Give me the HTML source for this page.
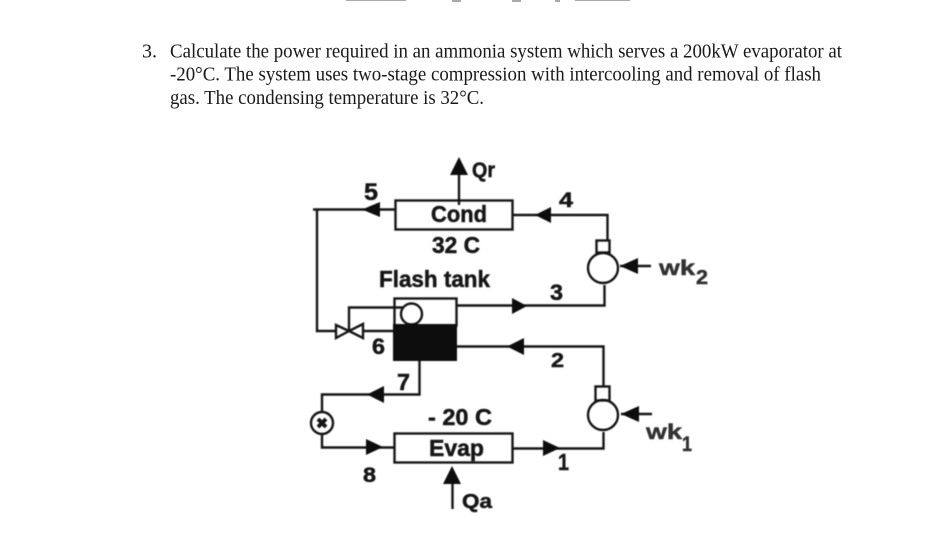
<!DOCTYPE html>
<html><head><meta charset="utf-8"><style>
html,body{margin:0;padding:0;background:#fff;width:945px;height:552px;overflow:hidden}
svg{display:block}
.b{font-family:"Liberation Serif",serif;font-size:20px;fill:#1a1a1a}
.l{font-family:"Liberation Sans",sans-serif;font-weight:bold;fill:#161616;stroke:#161616;stroke-width:.5}
.w{font-family:"Liberation Sans",sans-serif;font-weight:bold;fill:#333;stroke:#333;stroke-width:.5}
</style></head><body>
<svg width="945" height="552" viewBox="0 0 945 552" xmlns="http://www.w3.org/2000/svg">
<defs><filter id="s" x="-5%" y="-5%" width="110%" height="110%"><feGaussianBlur stdDeviation="0.4"/></filter></defs>
<rect width="945" height="552" fill="#fff"/>
<g fill="#555" opacity=".5">
<rect x="346" y="0" width="60" height="1"/><rect x="452" y="0" width="9" height="2"/><rect x="512" y="0" width="9" height="2"/><rect x="555" y="0" width="5" height="2"/><rect x="575" y="0" width="55" height="1"/>
</g>
<text class="b" x="142" y="57.500">3.</text>
<text class="b" x="170" y="57.500" textLength="672" lengthAdjust="spacingAndGlyphs">Calculate the power required in an ammonia system which serves a 200kW evaporator at</text>
<text class="b" x="170" y="80.500" textLength="651" lengthAdjust="spacingAndGlyphs">-20°C. The system uses two-stage compression with intercooling and removal of flash</text>
<text class="b" x="170" y="104" textLength="314" lengthAdjust="spacingAndGlyphs">gas. The condensing temperature is 32°C.</text>
<g filter="url(#s)">
<g fill="none" stroke="#141414" stroke-width="2.400">
<rect x="395.500" y="200.500" width="117" height="29"/>
<rect x="394.500" y="433.500" width="118" height="29"/>
<rect x="394.500" y="298.500" width="62" height="27"/>
<path d="M459 170V205M313 209.500H395M317 209V331H335M364 331H394M349 331V307.500H404M513 215H607.500V240"/>
<path d="M457 305.500H604.500V285M457 346.500H603.500V386M603.500 432V448.500H513"/>
<path d="M419.500 361V394.500H322V413M322 433V447.500H394M452.500 484V509M620 266H651M621 414H652"/>
<circle cx="411.500" cy="314" r="10.500"/>
<circle cx="603" cy="268" r="15"/><rect x="596.500" y="240.500" width="13" height="12"/>
<circle cx="603" cy="415" r="15"/><rect x="595.500" y="386.500" width="14" height="14"/>
<circle cx="322" cy="423" r="11"/>
<path d="M336 325L349 331 336 338ZM363 324L349 331 363 338Z"/>
<path d="M318 419L326 427M326 419L318 427" stroke-width="4"/>
</g>
<rect x="393" y="324" width="64" height="37" fill="#0c0c0c"/>
<g fill="#111">
<path d="M459 157L468 175H450Z"/>
<path d="M362 209.500L380 202V217Z"/>
<path d="M535 215L551 207V223Z"/>
<path d="M527 306L512 298V314Z"/>
<path d="M507 346.500L524 338V355Z"/>
<path d="M620 266L638 258V274Z"/>
<path d="M621 414L639 406V422Z"/>
<path d="M560 448L543 440V456Z"/>
<path d="M367 394.500L384 386V403Z"/>
<path d="M383 447L366 439V455Z"/>
<path d="M452 466L461 484H443Z"/>
</g>
<text class="l" x="472" y="177" font-size="21" textLength="23" lengthAdjust="spacingAndGlyphs">Qr</text>
<text class="l" x="364" y="200" font-size="24" textLength="14" lengthAdjust="spacingAndGlyphs">5</text>
<text class="l" x="559" y="207" font-size="21" textLength="14" lengthAdjust="spacingAndGlyphs">4</text>
<text class="l" x="431" y="222" font-size="23.500" textLength="56" lengthAdjust="spacingAndGlyphs">Cond</text>
<text class="l" x="432" y="253" font-size="23.500" textLength="48" lengthAdjust="spacingAndGlyphs">32 C</text>
<text class="l" x="379" y="287" font-size="23.500" textLength="111" lengthAdjust="spacingAndGlyphs">Flash tank</text>
<text class="l" x="550" y="300" font-size="22" textLength="13" lengthAdjust="spacingAndGlyphs">3</text>
<text class="l" x="372" y="354" font-size="22" textLength="13" lengthAdjust="spacingAndGlyphs">6</text>
<text class="l" x="551" y="367" font-size="20" textLength="13" lengthAdjust="spacingAndGlyphs">2</text>
<text class="l" x="397" y="390" font-size="23" textLength="13" lengthAdjust="spacingAndGlyphs">7</text>
<text class="l" x="428" y="425" font-size="23.500" textLength="64" lengthAdjust="spacingAndGlyphs">- 20 C</text>
<text class="l" x="429" y="456" font-size="23" textLength="55" lengthAdjust="spacingAndGlyphs">Evap</text>
<text class="l" x="363" y="482" font-size="21" textLength="13" lengthAdjust="spacingAndGlyphs">8</text>
<text class="l" x="558" y="470" font-size="23" textLength="11" lengthAdjust="spacingAndGlyphs">1</text>
<text class="l" x="462" y="508" font-size="20" textLength="30" lengthAdjust="spacingAndGlyphs">Qa</text>
<text class="w" x="659" y="275" font-size="21" textLength="36" lengthAdjust="spacingAndGlyphs"><tspan font-size="17">W</tspan><tspan>k</tspan></text>
<text class="w" x="696" y="284" font-size="20" textLength="12" lengthAdjust="spacingAndGlyphs">2</text>
<text class="w" x="646" y="439" font-size="21" textLength="36" lengthAdjust="spacingAndGlyphs"><tspan font-size="17">W</tspan><tspan>k</tspan></text>
<text class="w" x="682" y="451" font-size="21" textLength="10" lengthAdjust="spacingAndGlyphs">1</text>
</g>
</svg>
</body></html>
